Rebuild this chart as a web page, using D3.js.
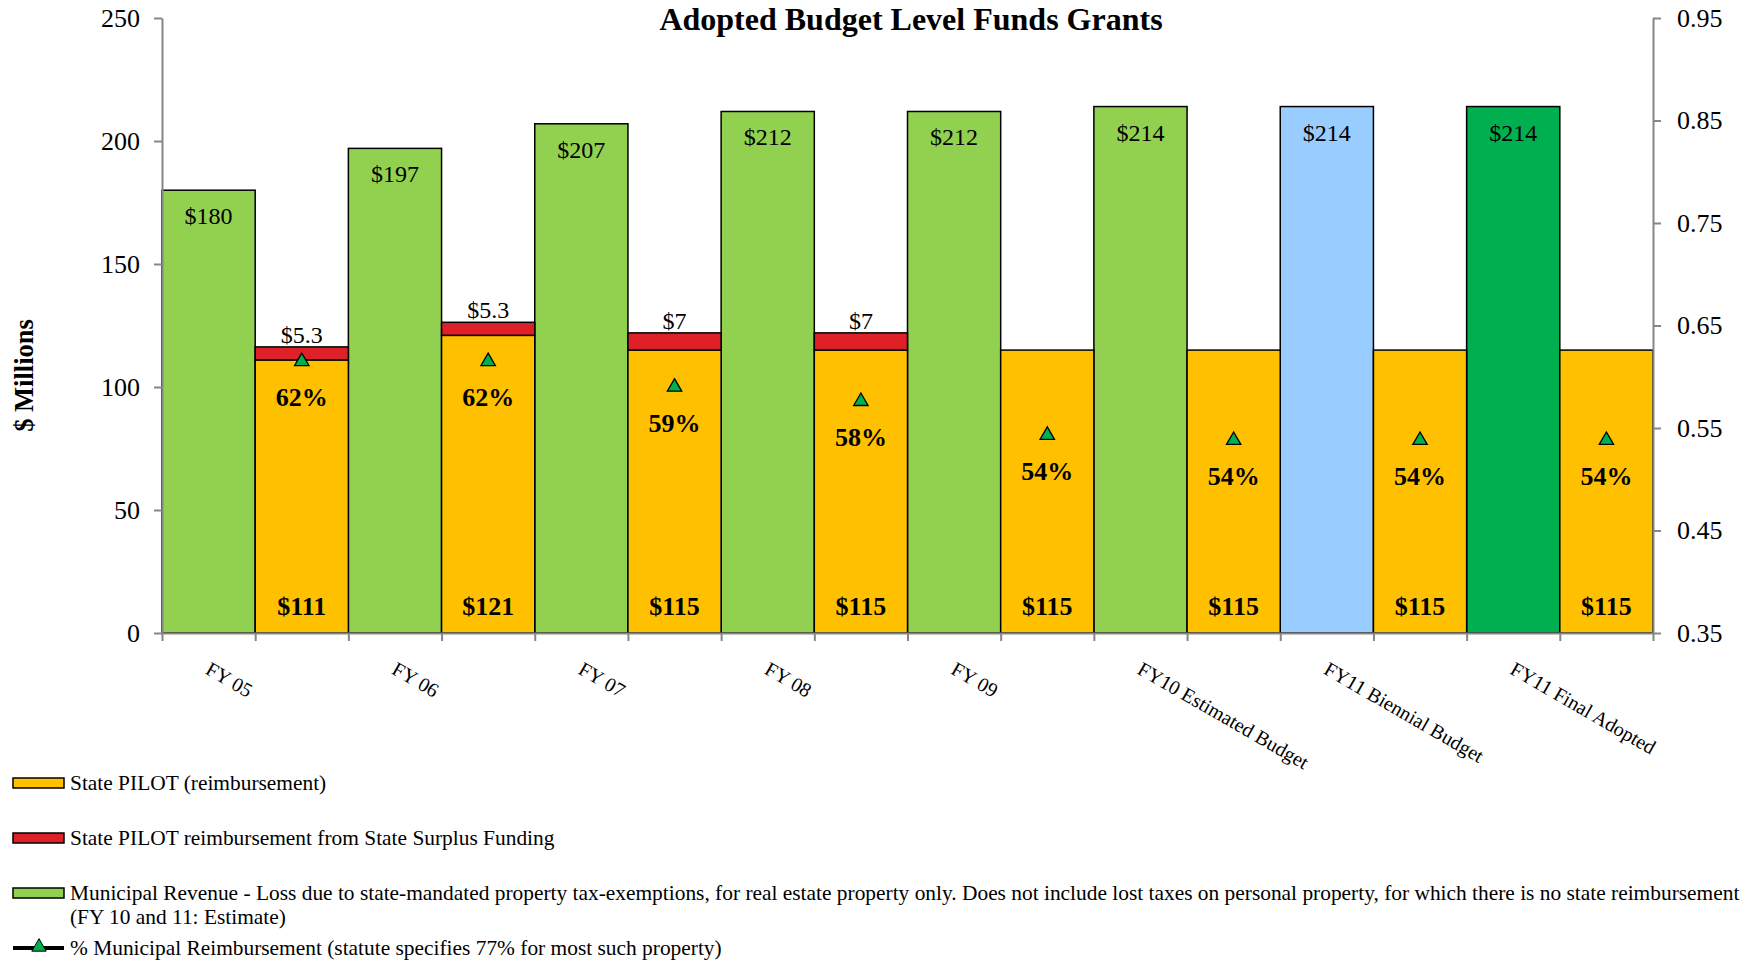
<!DOCTYPE html>
<html>
<head>
<meta charset="utf-8">
<script src="https://cdn.jsdelivr.net/npm/d3@7"></script>
<style>
  body { margin: 0; background: #fff; }
  svg { display: block; font-family: "Liberation Serif", "Times New Roman", serif; }
</style>
</head>
<body>
<div id="chart"></div>
<script>
const categories = ["FY 05", "FY 06", "FY 07", "FY 08", "FY 09",
    "FY10 Estimated Budget", "FY11 Biennial Budget", "FY11 Final Adopted"];
const municipalLoss = [180, 197, 207, 212, 212, 214, 214, 214];
const statePilot = [111, 121, 115, 115, 115, 115, 115, 115];
const surplusPilot = [5.3, 5.3, 7, 7, 0, 0, 0, 0];
const reimbursePct = [0.615, 0.615, 0.59, 0.576, 0.543, 0.538, 0.538, 0.538];
const pctLabels = ["62%", "62%", "59%", "58%", "54%", "54%", "54%", "54%"];
const leftTicks = [0, 50, 100, 150, 200, 250];
const rightTicks = [0.35, 0.45, 0.55, 0.65, 0.75, 0.85, 0.95];
const legendLabels = [
    "State PILOT (reimbursement)",
    "State PILOT reimbursement from State Surplus Funding",
    "Municipal Revenue - Loss due to state-mandated property tax-exemptions, for real estate property only. Does not include lost taxes on personal property, for which there is no state reimbursement",
    "% Municipal Reimbursement (statute specifies 77% for most such property)"
];
const legendSecondLine = "(FY 10 and 11: Estimate)";

function pilotChart() {
    const W = 1750, H = 964;
    const margin = { top: 18, right: 97, bottom: 331, left: 162 };
    const width = W - margin.left - margin.right;
    const height = H - margin.top - margin.bottom;

    const svg = d3.select("#chart").append("svg")
        .attr("width", W)
        .attr("height", H);

    const g = svg.append("g")
        .attr("transform", "translate(" + margin.left + "," + margin.top + ")");

    const x = d3.scaleBand().domain(categories).range([0, width]).padding(0);
    const sub = d3.scaleBand().domain([0, 1]).range([0, x.bandwidth()]).padding(0);
    const y = d3.scaleLinear().domain([0, 250]).range([height, 0]);
    const y2 = d3.scaleLinear().domain([0.35, 0.95]).range([height, 0]);

    const lossFill = i => i === 6 ? "#99CCFF" : (i === 7 ? "#00B050" : "#92D050");
    const rows = categories.map((c, i) => ({
        c, i, loss: municipalLoss[i], pilot: statePilot[i], surplus: surplusPilot[i],
        pct: reimbursePct[i], pctLabel: pctLabels[i]
    }));

    // municipal loss bars (left half of each category)
    g.selectAll(".loss").data(rows).enter().append("rect")
        .attr("x", d => x(d.c) + sub(0))
        .attr("y", d => y(d.loss))
        .attr("width", sub.bandwidth())
        .attr("height", d => y(0) - y(d.loss))
        .attr("fill", d => lossFill(d.i))
        .attr("stroke", "#000").attr("stroke-width", 1.5);

    // state PILOT bars
    g.selectAll(".pilot").data(rows).enter().append("rect")
        .attr("x", d => x(d.c) + sub(1))
        .attr("y", d => y(d.pilot))
        .attr("width", sub.bandwidth())
        .attr("height", d => y(0) - y(d.pilot))
        .attr("fill", "#FFC000")
        .attr("stroke", "#000").attr("stroke-width", 1.5);

    // surplus funding on top
    const withSurplus = rows.filter(d => d.surplus > 0);
    g.selectAll(".surplus").data(withSurplus).enter().append("rect")
        .attr("x", d => x(d.c) + sub(1))
        .attr("y", d => y(d.pilot + d.surplus))
        .attr("width", sub.bandwidth())
        .attr("height", d => y(d.pilot) - y(d.pilot + d.surplus))
        .attr("fill", "#DE2029")
        .attr("stroke", "#000").attr("stroke-width", 1.5);

    // axes
    const styleAxis = sel => {
        sel.selectAll("path, line").attr("stroke", "#868686").attr("stroke-width", 2);
        sel.selectAll("text").attr("fill", "#000").style("font-size", "26px")
            .style("font-family", "'Liberation Serif', 'Times New Roman', serif");
    };

    const slots = d3.scaleLinear().domain([0, categories.length * 2]).range([0, width]);
    g.append("g")
        .attr("transform", `translate(0,${height})`)
        .call(d3.axisBottom(slots).tickValues(d3.range(categories.length * 2 + 1))
            .tickFormat("").tickSizeInner(8).tickSizeOuter(0))
        .call(styleAxis);

    g.append("g")
        .call(d3.axisLeft(y).tickValues(leftTicks).tickSizeInner(8).tickSizeOuter(0).tickPadding(14))
        .call(styleAxis);

    g.append("g")
        .attr("transform", `translate(${width},0)`)
        .call(d3.axisRight(y2).tickValues(rightTicks).tickFormat(d3.format(".2f"))
            .tickSizeInner(8).tickSizeOuter(0).tickPadding(16))
        .call(styleAxis);

    // value labels
    g.selectAll(".lossLabel").data(rows).enter().append("text")
        .attr("x", d => x(d.c) + sub(0) + sub.bandwidth() / 2)
        .attr("y", d => y(d.loss) + 26)
        .attr("text-anchor", "middle").attr("dominant-baseline", "central")
        .style("font-size", "24px")
        .text(d => "$" + d.loss);

    g.selectAll(".surplusLabel").data(withSurplus).enter().append("text")
        .attr("x", d => x(d.c) + sub(1) + sub.bandwidth() / 2)
        .attr("y", d => y(d.pilot + d.surplus) - 12)
        .attr("text-anchor", "middle").attr("dominant-baseline", "central")
        .style("font-size", "24px")
        .text(d => "$" + d.surplus);

    g.selectAll(".pilotLabel").data(rows).enter().append("text")
        .attr("x", d => x(d.c) + sub(1) + sub.bandwidth() / 2)
        .attr("y", y(0) - 27)
        .attr("text-anchor", "middle").attr("dominant-baseline", "central")
        .style("font-size", "26px").style("font-weight", "bold")
        .text(d => "$" + d.pilot);

    // % reimbursement markers
    const tri = d3.symbol().type(d3.symbolTriangle).size(90);
    g.selectAll(".pct").data(rows).enter().append("path")
        .attr("d", tri)
        .attr("transform", d => `translate(${x(d.c) + sub(1) + sub.bandwidth() / 2},${y2(d.pct)})`)
        .attr("fill", "#00B050").attr("stroke", "#000").attr("stroke-width", 1.3);

    g.selectAll(".pctLabel").data(rows).enter().append("text")
        .attr("x", d => x(d.c) + sub(1) + sub.bandwidth() / 2)
        .attr("y", d => y2(d.pct) + 36)
        .attr("text-anchor", "middle").attr("dominant-baseline", "central")
        .style("font-size", "26px").style("font-weight", "bold")
        .text(d => d.pctLabel);

    // rotated category labels
    g.selectAll(".cat").data(rows).enter().append("text")
        .attr("transform", d => `translate(${x(d.c) + x.bandwidth() / 2 - 51},${height + 40}) rotate(30)`)
        .style("font-size", "20px")
        .text(d => d.c);

    // axis title
    g.append("text")
        .attr("transform", `translate(-138,${height / 2 + 50}) rotate(-90)`)
        .attr("text-anchor", "middle").attr("dominant-baseline", "central")
        .style("font-size", "26.5px").style("font-weight", "bold")
        .text("$ Millions");

    // chart title
    svg.append("text")
        .attr("x", 911).attr("y", 30)
        .attr("text-anchor", "middle")
        .style("font-size", "32px").style("font-weight", "bold")
        .text("Adopted Budget Level Funds Grants");

    // legend
    const legend = svg.append("g").attr("transform", "translate(13,0)");
    const legendY = [783, 838, 893, 948];
    const swatchFill = ["#FFC000", "#DE2029", "#92D050"];
    swatchFill.forEach((f, i) => {
        legend.append("rect")
            .attr("x", 0).attr("y", legendY[i] - 5)
            .attr("width", 51).attr("height", 10)
            .attr("fill", f).attr("stroke", "#000").attr("stroke-width", 1.5);
    });
    legend.append("line")
        .attr("x1", 0).attr("x2", 51)
        .attr("y1", legendY[3]).attr("y2", legendY[3])
        .attr("stroke", "#000").attr("stroke-width", 4);
    legend.append("path")
        .attr("d", tri)
        .attr("transform", `translate(26,${legendY[3] - 1})`)
        .attr("fill", "#00B050").attr("stroke", "#000").attr("stroke-width", 1);

    legendLabels.forEach((t, i) => {
        legend.append("text")
            .attr("x", 57).attr("y", legendY[i])
            .attr("dominant-baseline", "central")
            .style("font-size", "21.4px")
            .text(t);
    });
    legend.append("text")
        .attr("x", 57).attr("y", legendY[2] + 24)
        .attr("dominant-baseline", "central")
        .style("font-size", "21.4px")
        .text(legendSecondLine);
}

pilotChart();
</script>
</body>
</html>
